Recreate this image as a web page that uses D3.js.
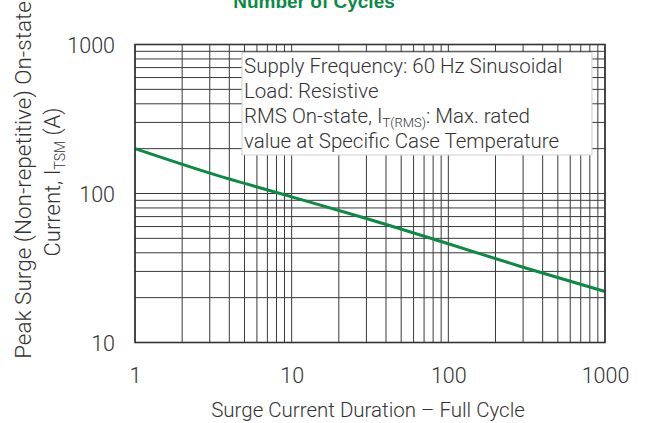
<!DOCTYPE html>
<html><head><meta charset="utf-8">
<script src="https://cdn.jsdelivr.net/npm/d3@7"></script>
<style>
body{margin:0;background:#fff;}
svg{display:block;}
text{font-family:Roboto,"Liberation Sans",Arial,sans-serif;font-weight:300;}
text.bold{font-family:"Liberation Sans",Arial,sans-serif;font-weight:bold;}
</style>
</head><body>
<svg id="chart" width="647" height="423"></svg>
<script>
// ---- data ----
const cycles = [1, 3, 10, 30, 100, 300, 1000];
const surgeCurrent = [200, 137, 95, 68, 46, 32, 22];
const xTickValues = [1, 10, 100, 1000];
const xTickLabels = ["1", "10", "100", "1000"];
const yTickValues = [10, 100, 1000];
const yTickLabels = ["10", "100", "1000"];
const titleText = "Number of Cycles";
const xAxisTitle = "Surge Current Duration \u2013 Full Cycle";
const yAxisTitle1 = "Peak Surge (Non-repetitive) On-state";
const noteLines = [
  [{t:"Supply Frequency: 60 Hz Sinusoidal"}],
  [{t:"Load: Resistive"}],
  [{t:"RMS On-state, I"},{t:"T(RMS)",sub:true},{t:": Max. rated"}],
  [{t:"value at Specific Case Temperature"}]
];

// ---- layout ----
const svg = d3.select("#chart");
const L = 135, R = 605, T = 44.5, B = 342.5;
const green = "#0b8a43";
const textCol = "#333";

const x = d3.scaleLog().domain([1, 1000]).range([L, R]);
const y = d3.scaleLog().domain([10, 1000]).range([B, T]);

// grid
const g = svg.append("g");
g.selectAll(".vx").data(x.ticks()).enter().append("line")
  .attr("x1", d => x(d)).attr("x2", d => x(d))
  .attr("y1", T).attr("y2", B)
  .attr("stroke", "#3a3a3a").attr("stroke-width", 1);
g.selectAll(".hy").data(y.ticks()).enter().append("line")
  .attr("y1", d => y(d)).attr("y2", d => y(d))
  .attr("x1", L).attr("x2", R)
  .attr("stroke", "#3a3a3a").attr("stroke-width", 1);

// curve
const line = d3.line().x(d => x(d[0])).y(d => y(d[1])).curve(d3.curveMonotoneX);
svg.append("path")
  .datum(cycles.map((c, i) => [c, surgeCurrent[i]]))
  .attr("d", line)
  .attr("fill", "none").attr("stroke", green).attr("stroke-width", 3);

// annotation box
const boxX = 242, boxY = 52.5, boxW = 350, boxH = 102.5;
svg.append("rect").attr("x", boxX).attr("y", boxY).attr("width", boxW).attr("height", boxH)
  .attr("fill", "#fff").attr("stroke", "#cfcfcf").attr("stroke-width", 1);
noteLines.forEach((ln, i) => {
  const t = svg.append("text").attr("x", boxX + 2).attr("y", boxY + 20.5 + i * 25)
    .attr("fill", textCol).style("font-size", "20.5px");
  ln.forEach((seg, j) => {
    const ts = t.append("tspan").text(seg.t);
    if (seg.sub) ts.attr("dy", 4).style("font-size", "13px");
    else if (j > 0) ts.attr("dy", -4);
  });
});

// frame
svg.append("rect").attr("x", L).attr("y", T).attr("width", R - L).attr("height", B - T)
  .attr("fill", "none").attr("stroke", "#333").attr("stroke-width", 1.6);

// axes (tick labels)
const xAxis = d3.axisBottom(x).tickValues(xTickValues).tickFormat((d, i) => xTickLabels[i]).tickSize(0).tickPadding(0);
const xa = svg.append("g").attr("transform", `translate(0,${B})`).call(xAxis);
xa.attr("font-family", null).attr("font-size", null);
xa.select(".domain").remove();
xa.selectAll("text").attr("y", 40).attr("dy", 0).attr("fill", textCol)
  .style("font-size", "21.5px");

const yAxis = d3.axisLeft(y).tickValues(yTickValues).tickFormat((d, i) => yTickLabels[i]).tickSize(0).tickPadding(0);
const ya = svg.append("g").attr("transform", `translate(${L},0)`).call(yAxis);
ya.attr("font-family", null).attr("font-size", null);
ya.select(".domain").remove();
ya.selectAll("text").attr("x", -20).attr("dy", "0.36em").attr("fill", textCol)
  .style("font-size", "21.5px");

// titles
svg.append("text").attr("class", "bold").attr("x", 314).attr("y", 8).attr("text-anchor", "middle")
  .attr("fill", green).style("font-size", "19px").text(titleText);

svg.append("text").attr("x", 368).attr("y", 417).attr("text-anchor", "middle")
  .attr("fill", textCol).style("font-size", "20.5px").text(xAxisTitle);

svg.append("text").attr("transform", "translate(31,180) rotate(-90)").attr("text-anchor", "middle")
  .attr("fill", textCol).style("font-size", "22.5px").text(yAxisTitle1);
const y2 = svg.append("text").attr("transform", "translate(60,182) rotate(-90)").attr("text-anchor", "middle")
  .attr("fill", textCol).style("font-size", "22px");
y2.append("tspan").text("Current, I");
y2.append("tspan").text("TSM").attr("dy", 5).style("font-size", "14px");
y2.append("tspan").text(" (A)").attr("dy", -5);
</script>
</body></html>
